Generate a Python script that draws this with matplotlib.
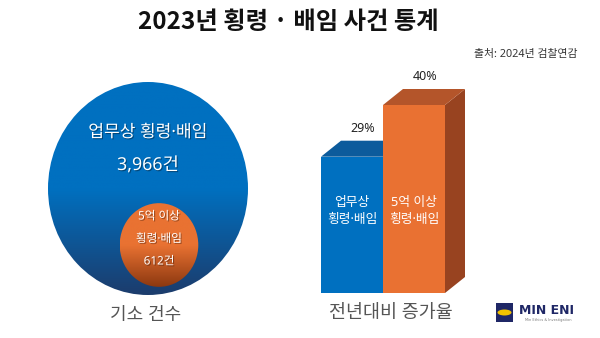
import numpy as np
import matplotlib
matplotlib.use("Agg")
import matplotlib.pyplot as plt
import matplotlib.patheffects as pe
from matplotlib.patches import Ellipse, Polygon, Rectangle
from matplotlib.colors import LinearSegmentedColormap

# Latin/기호는 Noto Sans, 한글은 CJK로
plt.rcParams['font.family'] = ['Noto Sans', 'Noto Sans CJK KR', 'DejaVu Sans']

# 데이터
title = "2023년 횡령 · 배임 사건 통계"
source = "출처: 2024년 검찰연감"
count_labels = ["업무상 횡령·배임", "5억 이상\n횡령·배임"]
counts = [3966, 612]
growth_labels = ["업무상\n횡령·배임", "5억 이상\n횡령·배임"]
growth = [29, 40]

blue_top, blue_bot = "#0070C0", "#1C3C6C"
orange_top, orange_bot = "#E97232", "#8C3810"

fig = plt.figure(figsize=(6, 3.38), dpi=100)
ax = fig.add_axes([0, 0, 1, 1])
ax.set_xlim(0, 600)
ax.set_ylim(338, 0)
ax.axis('off')

shadow = [pe.withSimplePatchShadow(offset=(0.8, -0.8), shadow_rgbFace='black', alpha=0.35)]


def grad_ellipse(cx, cy, w, h, c1, c2, z):
    el = Ellipse((cx, cy), w, h, facecolor='none', edgecolor='none', zorder=z)
    ax.add_patch(el)
    cmap = LinearSegmentedColormap.from_list('g', [c1, c1, c2])
    g = np.linspace(0, 1, 256).reshape(-1, 1)
    im = ax.imshow(g, cmap=cmap, aspect='auto', origin='upper',
                   extent=(cx - w / 2, cx + w / 2, cy + h / 2, cy - h / 2), zorder=z)
    im.set_clip_path(el)


# 기소 건수 (원 면적 비례)
r1 = 100
r2 = r1 * np.sqrt(counts[1] / counts[0])
stretch = 1.065
grad_ellipse(148, 188.5, 2 * r1, 2 * r1 * stretch, blue_top, blue_bot, 2)
grad_ellipse(159, 245, 2 * r2, 2 * r2 * stretch, orange_top, orange_bot, 3)

ax.text(148, 133, count_labels[0], color='white', fontsize=12.3, ha='center', va='center',
        path_effects=shadow, zorder=5)
ax.text(148, 165, f"{counts[0]:,}건", color='white', fontsize=12.8, ha='center', va='center',
        path_effects=shadow, zorder=5)
small_lines = count_labels[1].split("\n") + [f"{counts[1]:,}건"]
for i, s in enumerate(small_lines):
    ax.text(159, 217 + i * 22.5, s, color='white', fontsize=8.4, ha='center', va='center',
            path_effects=shadow, zorder=5)
ax.text(146, 315, "기소 건수", color='#555555', fontsize=13, ha='center', va='center')

# 전년대비 증가율 (3D 막대)
base = 293
scale = 4.7
bw = 62
dx, dy = 20, 16
fronts = ["#0070C0", "#E97132"]
tops = ["#0C5B9C", "#B4552A"]
sides = ["#0A4F88", "#984320"]
for i, v in enumerate(growth):
    x0 = 321 + i * bw
    top = base - v * scale
    ax.add_patch(Polygon([(x0 + bw, top), (x0 + bw + dx, top - dy), (x0 + bw + dx, base - dy),
                          (x0 + bw, base)], closed=True, facecolor=sides[i], edgecolor='none',
                         zorder=4 + i * 2))
    ax.add_patch(Polygon([(x0, top), (x0 + bw, top), (x0 + bw + dx, top - dy), (x0 + dx, top - dy)],
                         closed=True, facecolor=tops[i], edgecolor='none', zorder=4 + i * 2))
    ax.add_patch(Rectangle((x0, top), bw, base - top, facecolor=fronts[i], edgecolor='none',
                           zorder=5 + i * 2))
    ax.text(x0 + bw / 2 - 9 + dx, top - dy - 12, f"{v}%", fontsize=9, color='#222222',
            ha='center', va='center')
    ax.text(x0 + bw / 2, 211, growth_labels[i], color='white', fontsize=9.2, ha='center',
            va='center', linespacing=1.4, zorder=10)
ax.text(391, 313, "전년대비 증가율", color='#555555', fontsize=13.3, ha='center', va='center')

# 제목, 출처
ax.text(288, 22, title, fontsize=17.5, fontweight='bold', color='#111111', ha='center',
        va='center', family=['Noto Sans CJK KR', 'DejaVu Sans'])
ax.text(577, 55, source, fontsize=7.8, color='#333333', ha='right', va='center')

# 로고
ax.add_patch(Rectangle((496, 303), 17, 19, facecolor='#1F2766', edgecolor='none'))
ax.add_patch(Ellipse((504.5, 312.5), 14, 6, facecolor='#F2C200', edgecolor='none'))
ax.text(519, 311, "MIN ENI", fontsize=9, fontweight='bold', color='#1F2766', ha='left',
        va='center', family='DejaVu Sans')
ax.text(525, 319.5, "Min Ethics & Investigation", fontsize=2.5, color='#777777', ha='left',
        va='center', family='DejaVu Sans')

fig.savefig("out.png", dpi=100)
